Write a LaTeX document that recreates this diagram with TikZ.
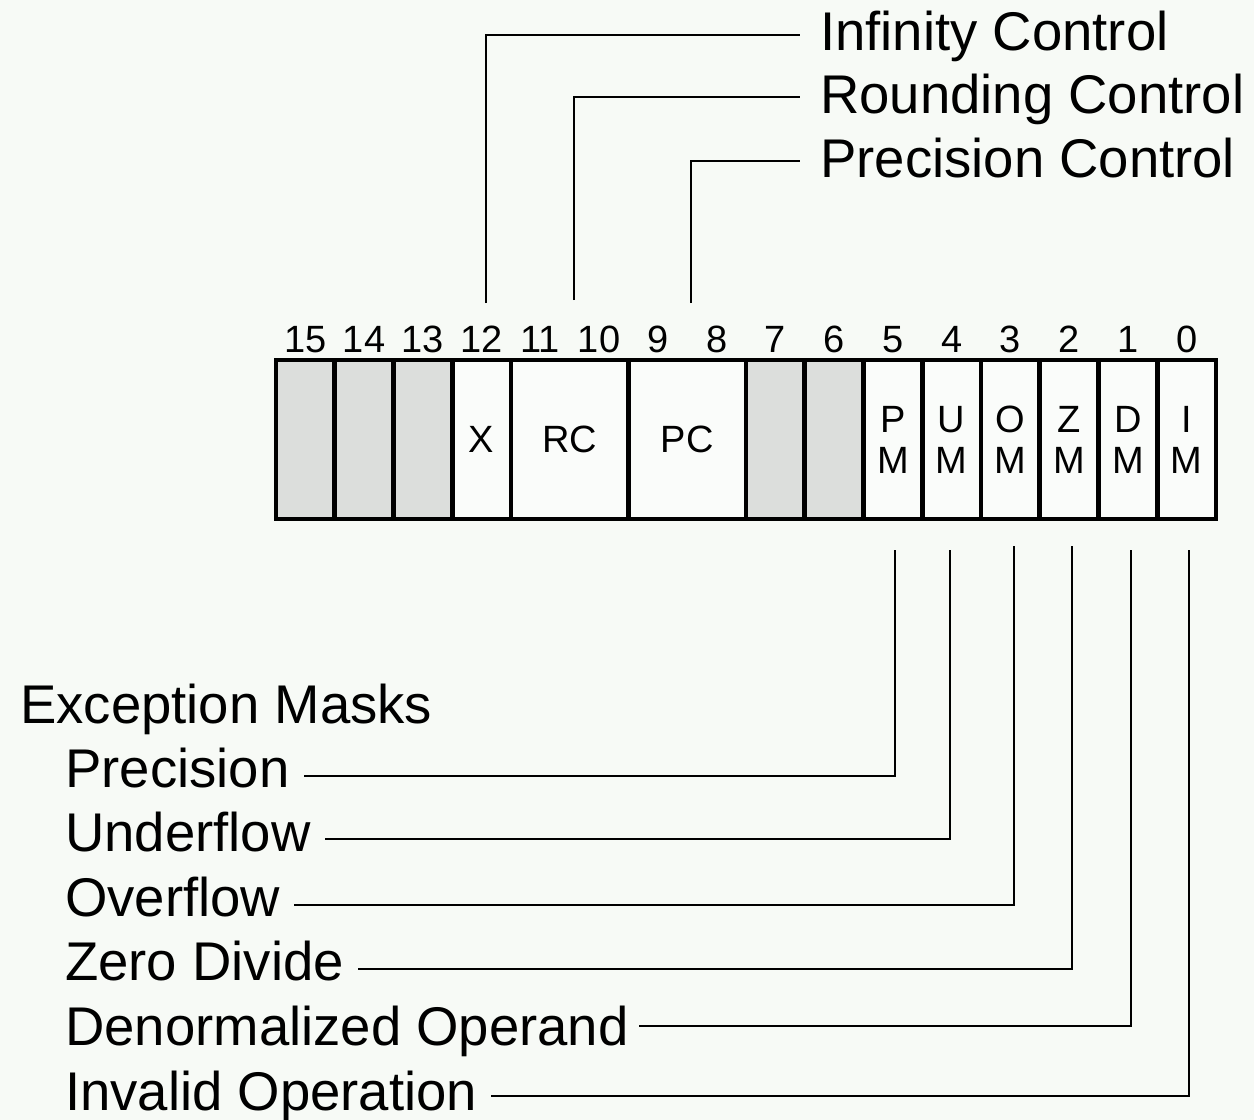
\documentclass[tikz,border=0pt]{standalone}
\usepackage{fontspec}
\setmainfont{Liberation Sans}
\definecolor{bg}{HTML}{F7FAF6}
\definecolor{cellw}{HTML}{FAFCFA}
\definecolor{cellg}{HTML}{DCDEDC}
\begin{document}
\begin{tikzpicture}[x=1pt,y=-1pt,
  cell/.style={draw=black,line width=4.8pt,fill=cellw,minimum height=159pt,
    inner sep=0pt,outer sep=0pt,font=\fontsize{38}{41}\selectfont,align=center},
  rsv/.style={cell,fill=cellg},
  bitnum/.style={anchor=base,inner sep=0pt,font=\fontsize{38}{41}\selectfont},
  lbl/.style={anchor=base west,inner ysep=0pt,inner xsep=0pt,font=\fontsize{54.5}{60}\selectfont},
  conn/.style={line width=2.9pt}]
\fill[bg] (0,0) rectangle (1254,1120);
\useasboundingbox (0,0) rectangle (1254,1120);

% register cells
\node[rsv,minimum width=58.75pt] (c15) at (305.375,439.5) {};
\node[rsv,minimum width=58.75pt] (c14) at (364.125,439.5) {};
\node[rsv,minimum width=58.75pt] (c13) at (422.875,439.5) {};
\node[cell,minimum width=58.75pt] (cx) at (481.625,439.5) {\raisebox{-3pt}{X}};
\node[cell,minimum width=117.5pt] (crc) at (569.75,439.5) {\raisebox{-3pt}{RC}};
\node[cell,minimum width=117.5pt] (cpc) at (687.25,439.5) {\raisebox{-3pt}{PC}};
\node[rsv,minimum width=58.75pt] (c7) at (775.375,439.5) {};
\node[rsv,minimum width=58.75pt] (c6) at (834.125,439.5) {};
\node[cell,minimum width=58.75pt] (cpm) at (892.875,439.5) {P\\M};
\node[cell,minimum width=58.75pt] (cum) at (951.625,439.5) {U\\M};
\node[cell,minimum width=58.75pt] (com) at (1010.375,439.5) {O\\M};
\node[cell,minimum width=58.75pt] (czm) at (1069.125,439.5) {Z\\M};
\node[cell,minimum width=58.75pt] (cdm) at (1127.875,439.5) {D\\M};
\node[cell,minimum width=58.75pt] (cim) at (1186.625,439.5) {I\\M};

% bit numbers
\foreach \b in {0,...,15}{
  \node[bitnum] (n\b) at ({276+(15-\b+0.5)*58.75},352) {\b};
}

% top labels
\node[lbl,inner xsep=20pt] (ic) at (800,50) {Infinity Control};
\node[lbl,inner xsep=20pt] (rc) at (800,113) {Rounding Control};
\node[lbl,inner xsep=20pt] (pc) at (800,177) {Precision Control};

\coordinate (t12) at (486,303);
\coordinate (t10) at (574,300);
\coordinate (t8) at (691,303);
\draw[conn] (t12) |- (ic.west |- 0,35);
\draw[conn] (t10) |- (rc.west |- 0,97);
\draw[conn] (t8) |- (pc.west |- 0,161);

% bottom labels
\node[lbl] (em) at (20,723) {Exception Masks};
\node[lbl,inner xsep=14pt] (lp) at (51,787) {Precision};
\node[lbl,inner xsep=14pt] (lu) at (51,851.6) {Underflow};
\node[lbl,inner xsep=14pt] (lo) at (51,916) {Overflow};
\node[lbl,inner xsep=14pt] (lz) at (51,980.8) {Zero Divide};
\node[lbl,inner xsep=10pt] (ld) at (55,1045.4) {Denormalized Operand};
\node[lbl,inner xsep=14pt] (li) at (51,1110) {Invalid Operation};

\coordinate (m5) at (895,550);
\coordinate (m4) at (950,550);
\coordinate (m3) at (1014,546);
\coordinate (m2) at (1072,546);
\coordinate (m1) at (1131,550);
\coordinate (m0) at (1189,550);
\draw[conn] (m5) |- (lp.east |- 0,776);
\draw[conn] (m4) |- (lu.east |- 0,839);
\draw[conn] (m3) |- (lo.east |- 0,905);
\draw[conn] (m2) |- (lz.east |- 0,969);
\draw[conn] (m1) |- (ld.east |- 0,1026);
\draw[conn] (m0) |- (li.east |- 0,1096);
\end{tikzpicture}
\end{document}
